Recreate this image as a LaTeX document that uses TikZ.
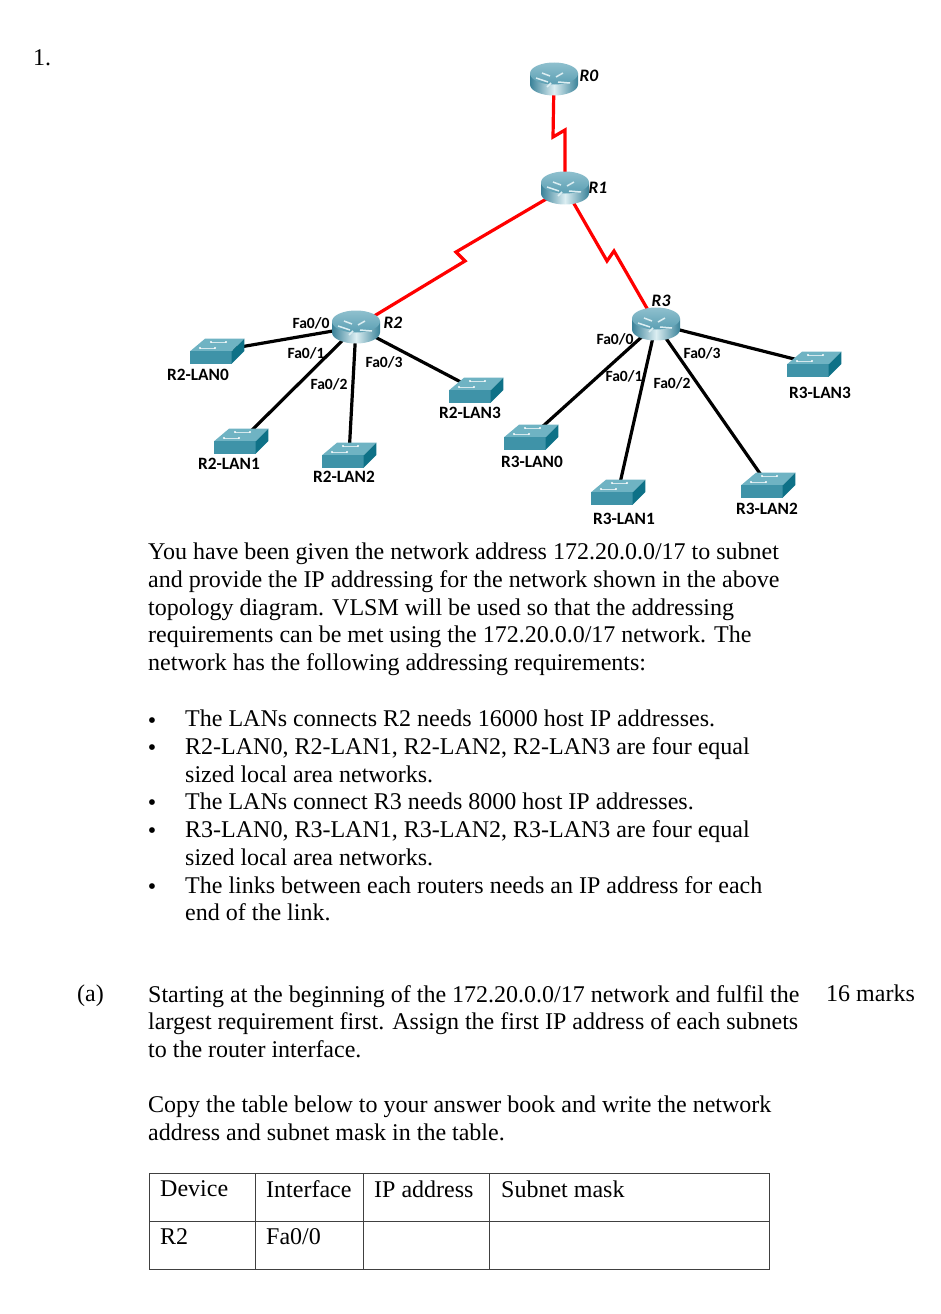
\documentclass[tikz,border=0pt]{standalone}
\usepackage{fontspec}
\setmainfont{Liberation Serif}
\newfontfamily\netfont{Carlito}
\usetikzlibrary{backgrounds}
\definecolor{swfront}{HTML}{3F93A8}
\definecolor{swtop}{HTML}{6FB3C3}
\definecolor{swside}{HTML}{0E7187}
\definecolor{rtdark}{HTML}{3A8299}
\definecolor{rtlight}{HTML}{DCEEF2}
\definecolor{rttop}{HTML}{8FC0CE}
\definecolor{rtmid}{HTML}{5B9FB3}
\newcommand{\routerglyph}{%
 \begin{scope}[shift={(path picture bounding box.center)}]
  \shade[left color=rtdark,right color=rtdark,middle color=rtlight]
   (-24,-5.5)--(-24,5.5) arc (180:0:24 and 11)--(24,-5.5)--cycle;
  \shade[top color=rttop,bottom color=rtmid] (0,-5.5) ellipse (24 and 11);
  \begin{scope}[shift={(0,-5.5)}]
   \draw[rtlight,line width=1.5pt] (-18,-1)--(-6,3);
   \draw[rtlight,line width=1.5pt] (2,-2)--(9,-6);
   \draw[rtlight,line width=1.5pt] (4,3)--(16,4);
   \draw[rtlight,line width=1.5pt] (-7,8)--(-3,4);
   \draw[rtlight,line width=1.5pt] (-12,-6)--(-4,-3);
  \end{scope}
 \end{scope}}
\newcommand{\switchglyph}{%
 \begin{scope}[shift={(path picture bounding box.center)}]
  \fill[swtop] (-27,0.3)--(14.7,0.3)--(27.3,-12.3)--(-12,-12.3)--cycle;
  \fill[swfront] (-27,0.3)--(14.7,0.3)--(14.7,12.7)--(-27,12.7)--cycle;
  \fill[swside] (14.7,0.3)--(27.3,-12.3)--(27.3,0)--(14.7,12.7)--cycle;
  \draw[white!70!swtop,line width=0.5pt] (-17,-3)--(-2,-3) (-6,-9)--(9,-9);
  \foreach \dotx/\doty in {-17/-3,-2/-3,-6/-9,9/-9}
   \fill[white] (\dotx,\doty) circle (1.1);
 \end{scope}}
\tikzset{
 routernode/.style={inner sep=0pt,minimum width=50pt,minimum height=36pt,path picture={\routerglyph}},
 switchnode/.style={inner sep=0pt,minimum width=56pt,minimum height=28pt,path picture={\switchglyph}},
 ethernet/.style={line width=3.2pt,black},
 serial/.style={line width=3.2pt,red,line join=miter},
 lanlabel/.style={inner sep=0pt,font=\netfont\bfseries\fontsize{17.3}{19}\selectfont},
 falabel/.style={inner sep=0pt,font=\netfont\bfseries\fontsize{15.6}{17}\selectfont},
 rlabel/.style={inner sep=0pt,font=\netfont\bfseries\itshape\fontsize{17.5}{19}\selectfont},
 body/.style={inner sep=0pt,anchor=north west,align=left,font=\fontsize{24}{27.7}\selectfont},
 cell/.style={draw=black!75,line width=0.7pt,inner sep=0pt,anchor=north west},
}
\begin{document}
\begin{tikzpicture}[x=1pt,y=-1pt]
 \useasboundingbox (0,0) rectangle (941,1314);
 % routers
 \node[routernode] (R0) at (554,79) {};
 \node[routernode] (R1) at (565,188) {};
 \node[routernode] (R2) at (356,327) {};
 \node[routernode] (R3) at (656,324) {};
 \node[rlabel] (R0name) at (589,76) {R0};
 \node[rlabel] (R1name) at (598,188) {R1};
 \node[rlabel] (R2name) at (393,323) {R2};
 \node[rlabel] (R3name) at (661,301) {R3};
 % switches
 \foreach \swname/\swx/\swy in {
   R2LAN0/217/351, R2LAN1/241/441, R2LAN2/349/455, R2LAN3/476/390,
   R3LAN0/531/437, R3LAN1/618/492, R3LAN2/768/485, R3LAN3/814/364}
  \node[switchnode] (\swname) at (\swx,\swy) {};
 \node[lanlabel] (R2LAN0name) at (198,375) {R2-LAN0};
 \node[lanlabel] (R2LAN1name) at (229,464) {R2-LAN1};
 \node[lanlabel] (R2LAN2name) at (344,477) {R2-LAN2};
 \node[lanlabel] (R2LAN3name) at (470,413) {R2-LAN3};
 \node[lanlabel] (R3LAN0name) at (532,462) {R3-LAN0};
 \node[lanlabel] (R3LAN1name) at (624,519) {R3-LAN1};
 \node[lanlabel] (R3LAN2name) at (767,509) {R3-LAN2};
 \node[lanlabel] (R3LAN3name) at (820,393) {R3-LAN3};
 % interfaces
 \node[falabel] (R2fa0) at (311,323) {Fa0/0};
 \node[falabel] (R2fa1) at (306,353) {Fa0/1};
 \node[falabel] (R2fa2) at (329,384) {Fa0/2};
 \node[falabel] (R2fa3) at (384,362) {Fa0/3};
 \node[falabel] (R3fa0) at (615,339) {Fa0/0};
 \node[falabel] (R3fa1) at (624,376) {Fa0/1};
 \node[falabel] (R3fa2) at (672,383) {Fa0/2};
 \node[falabel] (R3fa3) at (702,353) {Fa0/3};
 % links
 \coordinate (kinkA) at (553,137); \coordinate (kinkB) at (565,130);
 \coordinate (kinkC) at (456,252); \coordinate (kinkD) at (465,261);
 \coordinate (kinkE) at (607,261); \coordinate (kinkF) at (614,251);
 \begin{scope}[on background layer]
  \draw[serial] (R0.center)--(kinkA)--(kinkB)--(R1.center);
  \draw[serial] (R1.center)--(kinkC)--(kinkD)--(R2.center);
  \draw[serial] (R1.center)--(kinkE)--(kinkF)--(R3.center);
  \foreach \lan in {R2LAN0,R2LAN1,R2LAN2,R2LAN3} \draw[ethernet] (R2.center)--(\lan.center);
  \foreach \lan in {R3LAN0,R3LAN1,R3LAN2,R3LAN3} \draw[ethernet] (R3.center)--(\lan.center);
 \end{scope}
 % text
 \node[body] (qnum) at (33,49) {1.};
 \node[body] (intro) at (148,543) {You have been given the network address 172.20.0.0/17 to subnet\\
  and provide the IP addressing for the network shown in the above\\
  topology diagram. VLSM will be used so that the addressing\\
  requirements can be met using the 172.20.0.0/17 network. The\\
  network has the following addressing requirements:};
 \node[body] (reqs) at (185,710) {The LANs connects R2 needs 16000 host IP addresses.\\
  R2-LAN0, R2-LAN1, R2-LAN2, R2-LAN3 are four equal\\
  sized local area networks.\\
  The LANs connect R3 needs 8000 host IP addresses.\\
  R3-LAN0, R3-LAN1, R3-LAN2, R3-LAN3 are four equal\\
  sized local area networks.\\
  The links between each routers needs an IP address for each\\
  end of the link.};
 \foreach \bly in {723,750,805,833,889}
  \node[body,anchor=center] (bullet\bly) at (152,\bly) {•};
 \node[body] (parta) at (77,985) {(a)};
 \node[body] (task) at (148,985) {Starting at the beginning of the 172.20.0.0/17 network and fulfil the\\
  largest requirement first. Assign the first IP address of each subnets\\
  to the router interface.};
 \node[body] (marks) at (826,985) {16 marks};
 \node[body] (copy) at (148,1096) {Copy the table below to your answer book and write the network\\
  address and subnet mask in the table.};
 % table
 \foreach \cellname/\cx/\cy/\cw in {
   devhead/149/1173/106, ifhead/255/1173/108, iphead/363/1173/126, maskhead/489/1173/280,
   devrow/149/1221/106, ifrow/255/1221/108, iprow/363/1221/126, maskrow/489/1221/280}
  \node[cell,minimum width=\cw pt,minimum height=48pt] (\cellname) at (\cx,\cy) {};
 \node[body,anchor=west] (devtext) at (160,1189) {Device};
 \node[body,anchor=west] (iftext) at (266,1189) {Interface};
 \node[body,anchor=west] (iptext) at (374,1189) {IP address};
 \node[body,anchor=west] (masktext) at (501,1189) {Subnet mask};
 \node[body,anchor=west] (devval) at (160,1237) {R2};
 \node[body,anchor=west] (ifval) at (266,1237) {Fa0/0};
\end{tikzpicture}
\end{document}
